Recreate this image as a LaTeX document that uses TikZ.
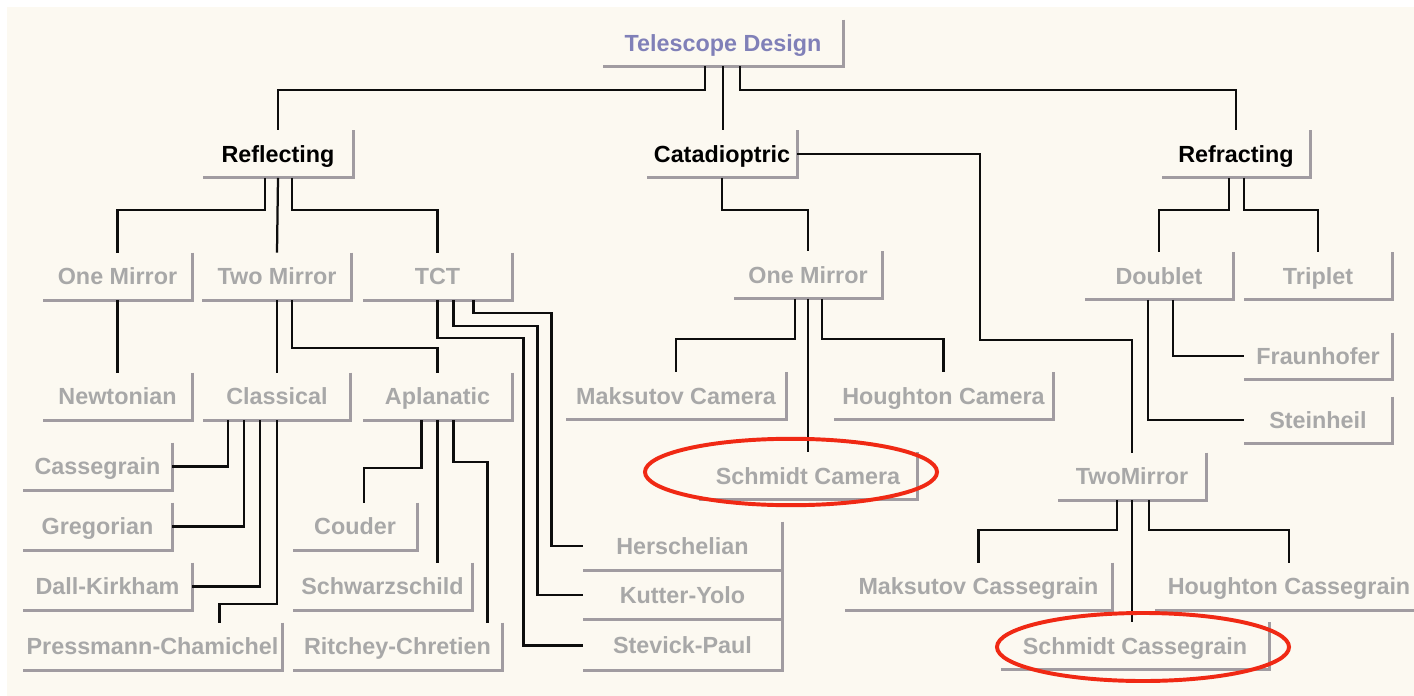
\documentclass[tikz,border=0pt]{standalone}
\usepackage{fontspec}
\setmainfont{Liberation Sans}
\usepackage{tikz}
\usetikzlibrary{calc}
\definecolor{bgcream}{rgb}{0.99, 0.976, 0.945}
\definecolor{btngray}{rgb}{0.63, 0.61, 0.63}
\definecolor{leafgray}{rgb}{0.66, 0.66, 0.66}
\definecolor{topblue}{rgb}{0.5, 0.5, 0.72}
\definecolor{ringred}{rgb}{0.94, 0.16, 0.08}

\tikzset{
  btn/.style={minimum width=#1*0.025cm, minimum height=47*0.025cm, inner sep=0pt,
    text height=12pt, text depth=0.3pt,
    font=\fontsize{16.6}{19}\selectfont\bfseries, text=leafgray},
  btn/.default=148,
  head/.style={text=black},
  btnedge/.style={btngray, line width=2pt},
  link/.style={black!95, line width=1.6pt},
  ring/.style={ringred, line width=2.8pt}
}

\begin{document}
\begin{tikzpicture}[x=0.025cm, y=-0.025cm]
    \useasboundingbox (0,0) rectangle (1414,696);
    \fill [white] (0,0) rectangle (1414,696);
    \fill [bgcream] (7,7) rectangle (1414,696);

    % buttons
    \node [btn=240, text=topblue, minimum height=46*0.025cm] (top) at (723,43) {Telescope Design};

    \node [btn=150, head] (refl) at (278,154) {Reflecting};
    \node [btn=150, head] (cata) at (722,154) {Catadioptric};
    \node [btn=148, head] (refr) at (1236,154) {Refracting};

    \node [btn=149] (oneL) at (117.5,276.5) {One Mirror};
    \node [btn=149] (twoL) at (277,276.5) {Two Mirror};
    \node [btn=149] (tct) at (437.5,276.5) {TCT};
    \node [btn] (oneC) at (808,275) {One Mirror};
    \node [btn] (doub) at (1159,276) {Doublet};
    \node [btn] (trip) at (1318,276) {Triplet};

    \node [btn=149] (newt) at (117.5,396.5) {Newtonian};
    \node [btn=147] (clas) at (277,396.5) {Classical};
    \node [btn=149] (apla) at (437.5,396.5) {Aplanatic};
    \node [btn=220] (maksC) at (676,396) {Maksutov Camera};
    \node [btn=219] (hougC) at (943.5,396) {Houghton Camera};
    \node [btn, minimum height=46*0.025cm] (frau) at (1318,356) {Fraunhofer};
    \node [btn, minimum height=46*0.025cm] (stei) at (1318,420) {Steinheil};

    \node [btn=218] (schC) at (808,476) {Schmidt Camera};
    \node [btn] (twoM) at (1132,476.5) {TwoMirror};

    \node [btn=149] (cass) at (97.5,466.5) {Cassegrain};
    \node [btn=149] (greg) at (97.5,526.5) {Gregorian};
    \node [btn=169] (dall) at (107.5,586.5) {Dall-Kirkham};
    \node [btn=259] (pres) at (152.5,646.5) {Pressmann-Chamichel};
    \node [btn=124] (coud) at (355,526.5) {Couder};
    \node [btn=179] (schw) at (382.5,586.5) {Schwarzschild};
    \node [btn=209] (ritc) at (397.5,646.5) {Ritchey-Chretien};

    \node [btn=199, minimum height=48*0.025cm] (hers) at (682.5,546) {Herschelian};
    \node [btn=199, minimum height=48*0.025cm] (kutt) at (682.5,595) {Kutter-Yolo};
    \node [btn=199, minimum height=49*0.025cm] (stev) at (682.5,645.5) {Stevick-Paul};

    \node [btn=267] (maksCass) at (978.5,586.5) {Maksutov Cassegrain};
    \node [btn=268] (hougCass) at (1289,586.5) {Houghton Cassegrain};
    \node [btn=268] (schCass) at (1135,646) {Schmidt Cassegrain};

    \foreach \n in {top,refl,cata,refr,oneL,twoL,tct,oneC,doub,trip,newt,clas,apla,
                    maksC,hougC,frau,stei,schC,twoM,cass,greg,dall,pres,coud,schw,ritc,
                    hers,kutt,stev,maksCass,hougCass,schCass}
      \draw [btnedge] (\n.north east) -- (\n.south east) -- (\n.south west);

    % links
    \draw [link] (top.south) ++(-18,0) -- ++(0,24) -| (refl.north);
    \draw [link] (top.south) -- (top.south |- cata.north);
    \draw [link] (top.south) ++(17,0) -- ++(0,24) -| (refr.north);

    \draw [link] (refl.south) ++(-13,0) -- ++(0,32) -| (oneL.north);
    \draw [link] (refl.south) -- (twoL.north);
    \draw [link] (refl.south) ++(14,0) -- ++(0,32) -| (tct.north);

    \coordinate (bend) at (980,340);
    \draw [link] (cata.south) -- ++(0,32) -| (oneC.north);
    \draw [link] (cata.east) -| (bend) -| (twoM.north);

    \draw [link] (refr.south) ++(-7,0) -- ++(0,32) -| (doub.north);
    \draw [link] (refr.south) ++(8,0) -- ++(0,32) -| (trip.north);

    \draw [link] (oneL.south) -- (newt.north);
    \draw [link] (twoL.south) -- (clas.north);
    \draw [link] (twoL.south) ++(15,0) -- ++(0,48) -| (apla.north);

    \draw [link] (tct.south) |- ++(86,38) |- (stev.west);
    \draw [link] (tct.south) ++(16,0) |- ++(84,26) |- (kutt.west);
    \draw [link] (tct.south) ++(36,0) |- ++(78,13) |- (hers.west);

    \draw [link] (clas.south) ++(-49,0) |- (cass.east);
    \draw [link] (clas.south) ++(-33,0) |- (greg.east);
    \draw [link] (clas.south) ++(-17,0) |- (dall.east);
    \draw [link] (clas.south) |- ($(pres.north)+(67,-19)$) -- ($(pres.north)+(67,0)$);

    \draw [link] (apla.south) ++(-16,0) |- ($(coud.north)+(9,-35)$) -- ($(coud.north)+(9,0)$);
    \draw [link] (apla.south) -- (apla.south |- schw.north);
    \draw [link] (apla.south) ++(16,0) |- ($(ritc.north)+(90,-161)$) -- ($(ritc.north)+(90,0)$);

    \draw [link] (oneC.south) ++(-13,0) -- ++(0,40) -| (maksC.north);
    \draw [link] (oneC.south) -- (schC.north);
    \draw [link] (oneC.south) ++(14,0) -- ++(0,40) -| (hougC.north);

    \draw [link] (doub.south) ++(14,0) |- (frau.west);
    \draw [link] (doub.south) ++(-11,0) |- (stei.west);

    \draw [link] (twoM.south) ++(-15,0) -- ++(0,30) -| (maksCass.north);
    \draw [link] (twoM.south) -- (twoM.south |- schCass.north);
    \draw [link] (twoM.south) ++(17,0) -- ++(0,30) -| (hougCass.north);

    % marks
    \draw [ring] (791,472) ellipse [x radius=3.65cm, y radius=0.83cm];
    \draw [ring] (1143,647) ellipse [x radius=3.65cm, y radius=0.85cm];
\end{tikzpicture}
\end{document}
